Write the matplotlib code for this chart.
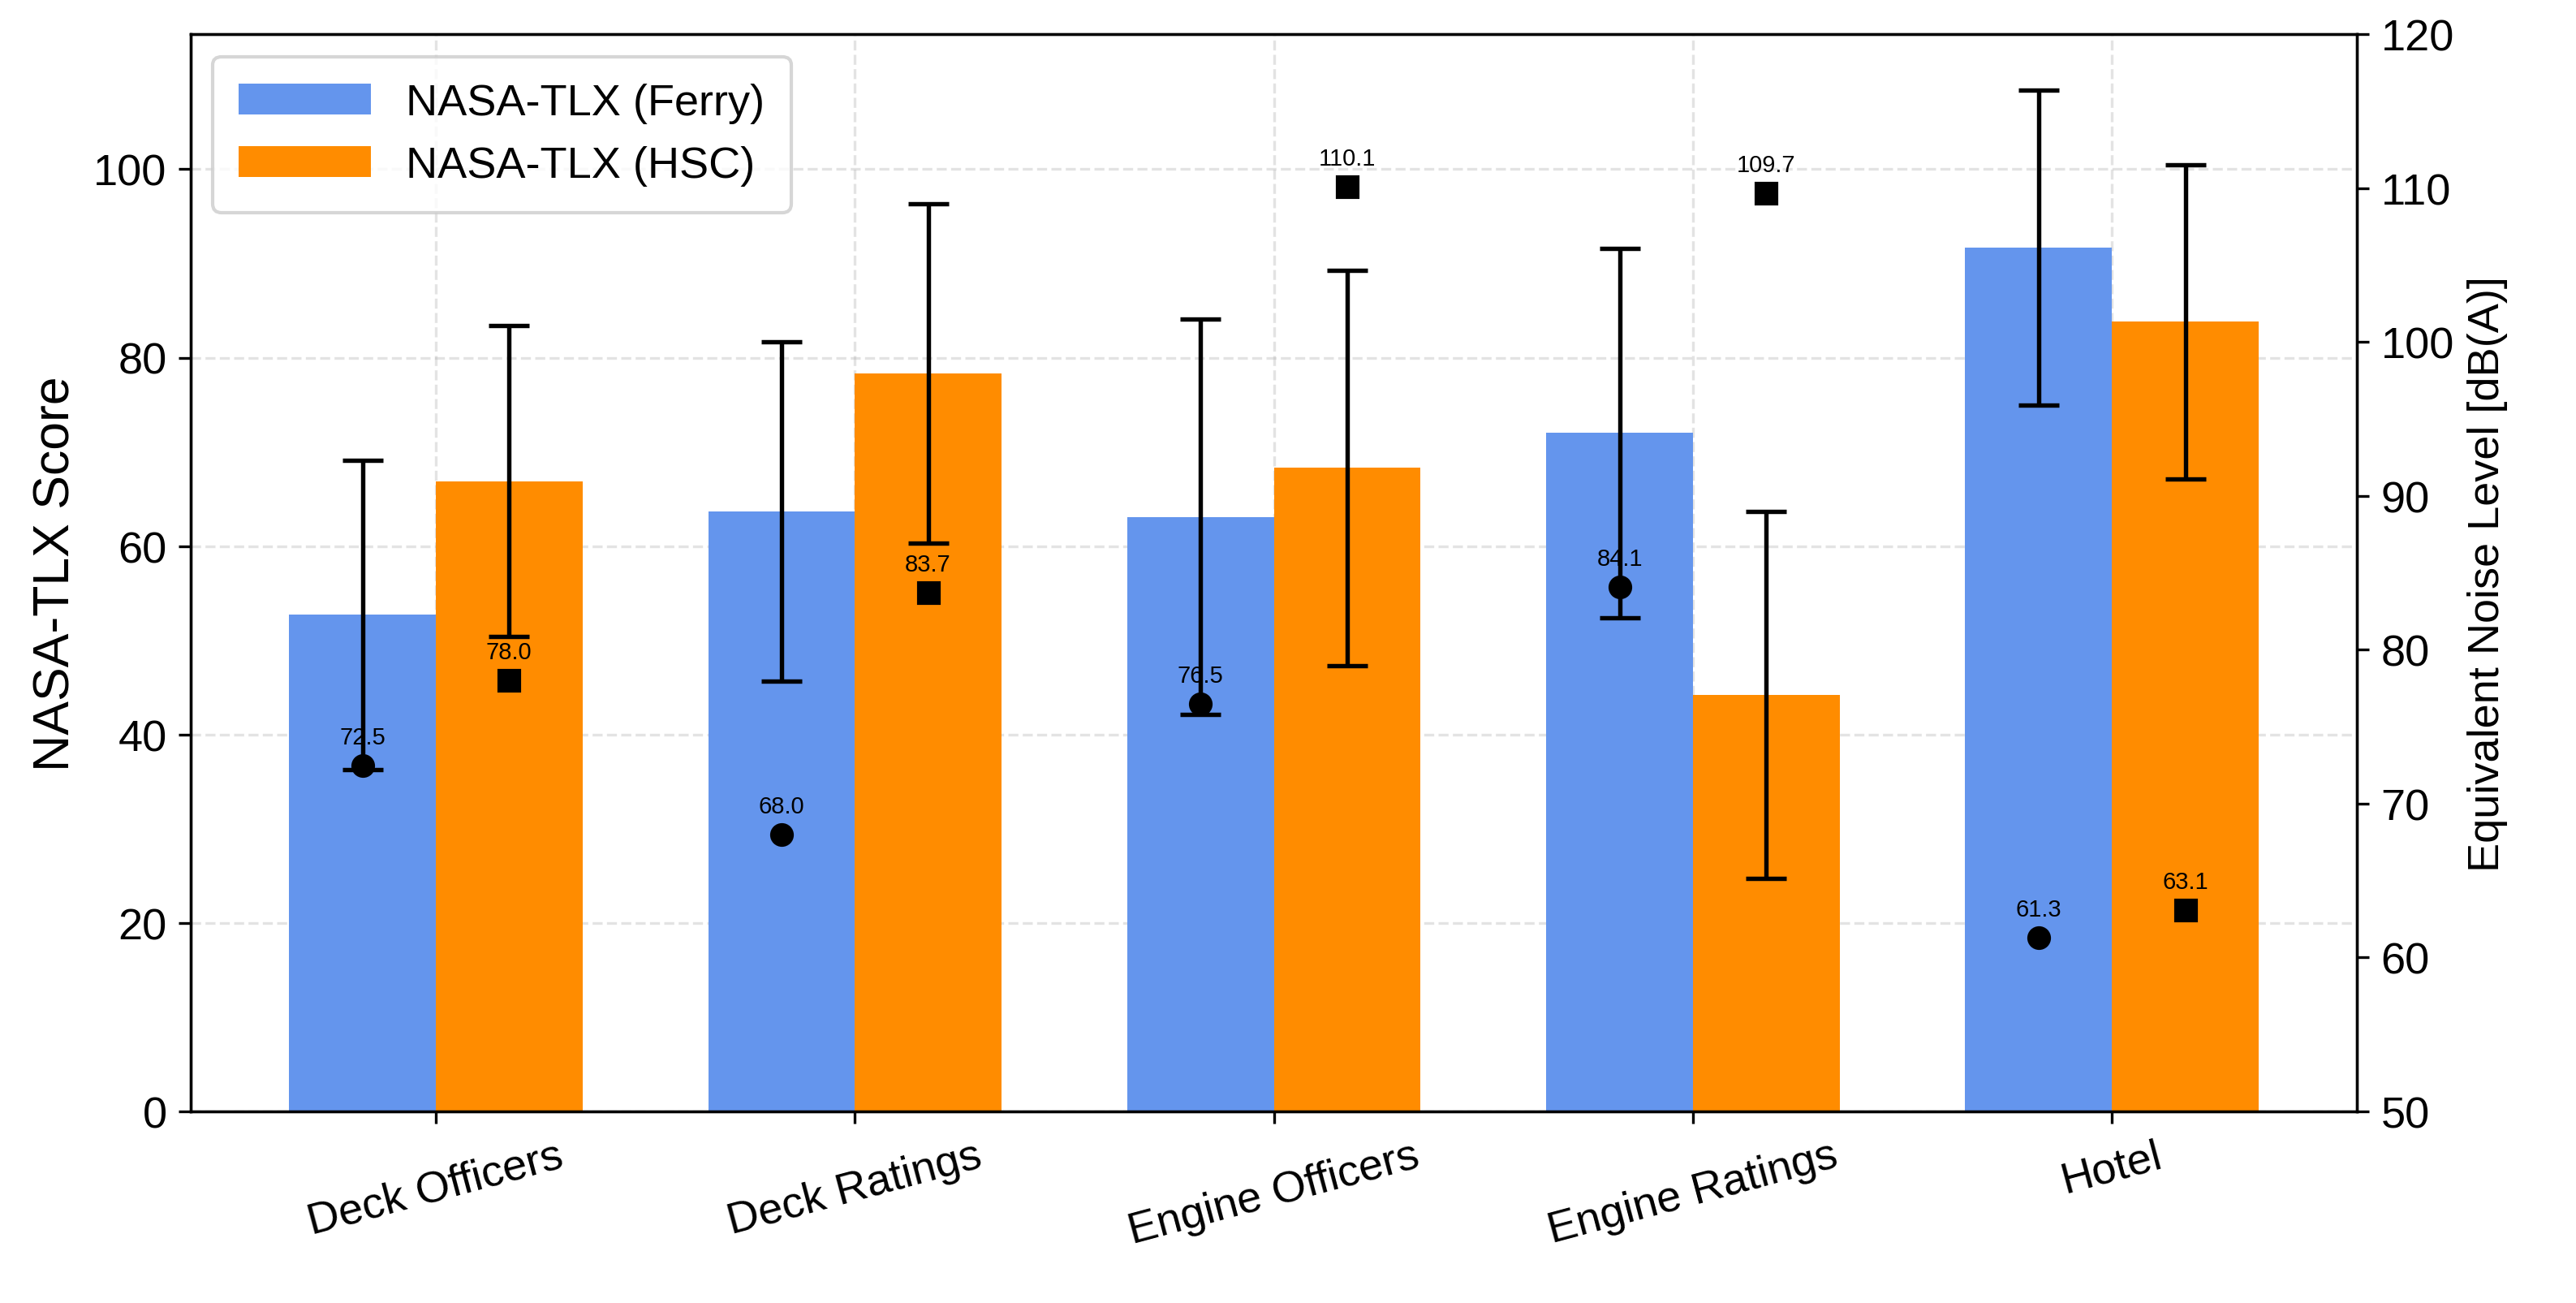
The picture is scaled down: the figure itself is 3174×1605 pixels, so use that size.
import numpy as np
import matplotlib.pyplot as plt

plt.rcParams['font.family'] = 'Liberation Sans'

groups = ['Deck Officers', 'Deck Ratings', 'Engine Officers', 'Engine Ratings', 'Hotel']
tlx_ferry = [52.7, 63.7, 63.1, 72.0, 91.7]
tlx_ferry_sd = [16.4, 18.0, 21.0, 19.6, 16.7]
tlx_hsc = [66.9, 78.3, 68.3, 44.2, 83.8]
tlx_hsc_sd = [16.5, 18.0, 21.0, 19.5, 16.7]
noise_ferry = [72.5, 68.0, 76.5, 84.1, 61.3]
noise_hsc = [78.0, 83.7, 110.1, 109.7, 63.1]

x = np.arange(len(groups))
w = 0.35

fig, ax = plt.subplots(figsize=(10.58, 5.353), dpi=300)
fig.subplots_adjust(left=0.074, right=0.915, top=0.973, bottom=0.147)

ax.bar(x - w/2, tlx_ferry, w, color='#6495ED', label='NASA-TLX (Ferry)', zorder=2)
ax.bar(x + w/2, tlx_hsc, w, color='#FF8C00', label='NASA-TLX (HSC)', zorder=2)
ax.errorbar(x - w/2, tlx_ferry, yerr=tlx_ferry_sd, fmt='none', ecolor='black', capsize=6, elinewidth=1.3, capthick=1.3, zorder=3)
ax.errorbar(x + w/2, tlx_hsc, yerr=tlx_hsc_sd, fmt='none', ecolor='black', capsize=6, elinewidth=1.3, capthick=1.3, zorder=3)

ax.set_ylim(0, 114.3)
ax.set_ylabel('NASA-TLX Score', fontsize=15)
ax.set_xticks(x)
ax.set_xticklabels(groups, rotation=15, fontsize=13)
ax.tick_params(axis='y', labelsize=13)
ax.grid(True, linestyle='--', alpha=0.35, zorder=0)
ax.set_axisbelow(True)
ax.legend(loc='upper left', fontsize=13, handlelength=3, borderpad=0.6)

ax2 = ax.twinx()
ax2.set_ylim(50, 120)
ax2.set_ylabel('Equivalent Noise Level [dB(A)]', fontsize=13)
ax2.tick_params(axis='y', labelsize=13)
ax2.plot(x - w/2, noise_ferry, 'o', color='black', markersize=6, linestyle='none')
ax2.plot(x + w/2, noise_hsc, 's', color='black', markersize=6, linestyle='none')
for xi, v in zip(x - w/2, noise_ferry):
    ax2.annotate(f'{v:.1f}', (xi, v), xytext=(0, 5), textcoords='offset points', ha='center', va='bottom', fontsize=7)
for xi, v in zip(x + w/2, noise_hsc):
    ax2.annotate(f'{v:.1f}', (xi, v), xytext=(0, 5), textcoords='offset points', ha='center', va='bottom', fontsize=7)

fig.savefig('out.png')
